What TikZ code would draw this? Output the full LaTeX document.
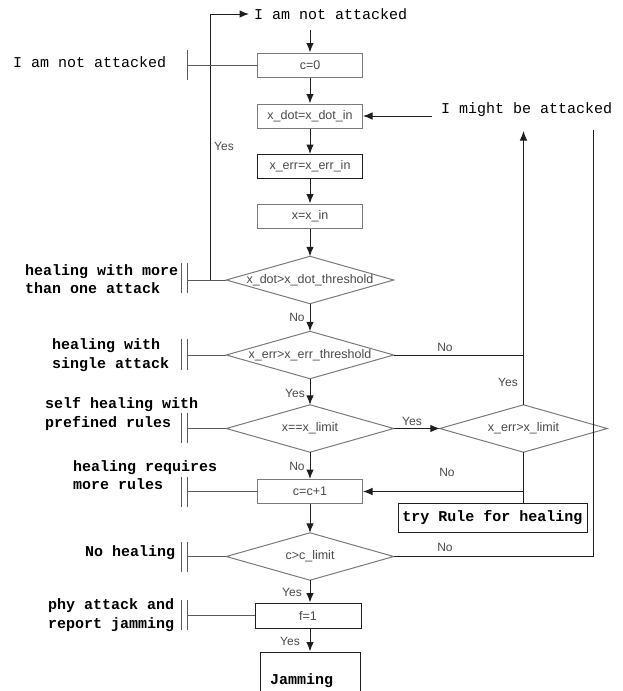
\documentclass[tikz,border=0pt]{standalone}
\usepackage{fontspec}
\newfontfamily\monof{Liberation Mono}
\newfontfamily\sansf{Liberation Sans}
\usetikzlibrary{arrows.meta}
\definecolor{boxgray}{HTML}{7A7A7A}
\definecolor{txtgray}{HTML}{4A4A4A}
\definecolor{linedark}{HTML}{1E1E1E}
\definecolor{tiegray}{HTML}{5A5A5A}
\begin{document}
\begin{tikzpicture}[x=1pt,y=-1pt,
  box/.style={draw=boxgray, line width=1pt, minimum width=105pt, minimum height=24pt, inner sep=0pt, font=\sansf\fontsize{12.5}{14}\selectfont, text=txtgray},
  darkbox/.style={box, draw=linedark},
  dia/.style={minimum width=167pt, minimum height=47pt, inner sep=0pt, font=\sansf\fontsize{12.5}{14}\selectfont, text=txtgray},
  diaedge/.style={draw=boxgray, line width=1pt, line join=miter},
  monotext/.style={font=\monof\fontsize{15}{18.5}\selectfont, inner sep=0pt, text=black},
  ann/.style={font=\monof\bfseries\fontsize{15}{18.5}\selectfont, align=left, anchor=west, inner sep=0pt, text=black},
  lab/.style={font=\sansf\fontsize{12}{14}\selectfont, text=txtgray, inner sep=0pt},
  arr/.style={draw=linedark, line width=1pt, -{Latex[length=9.5pt,width=7.5pt]}},
  con/.style={draw=linedark, line width=1pt},
  tie/.style={draw=tiegray, line width=1pt},
]
\clip (0,0) rectangle (622,691);
\fill[white] (0,0) rectangle (622,691);

% main column
\node[monotext, anchor=west, inner sep=5pt] (top) at (249,14) {I am not attacked};
\coordinate (cin) at (310,30);
\node[box] (c0) at (310,65) {c=0};
\node[box] (xdot) at (310,116) {x\_dot=x\_dot\_in};
\node[darkbox] (xerr) at (310,166.5) {x\_err=x\_err\_in};
\node[box] (xin) at (310,216) {x=x\_in};
\node[dia] (d1) at (310,280) {x\_dot>x\_dot\_threshold};
\node[dia] (d2) at (310,355) {x\_err>x\_err\_threshold};
\node[dia] (d3) at (310,428.5) {x==x\_limit};
\node[dia] (d4) at (523.5,428.5) {x\_err>x\_limit};
\node[box] (c1) at (310,491.5) {c=c+1};
\node[dia] (d5) at (310,556.5) {c>c\_limit};
\node[darkbox, minimum width=106pt, minimum height=25pt] (f1) at (308,615.5) {f=1};
\node[draw=linedark, line width=1pt, minimum width=189pt, minimum height=29pt, inner sep=0pt, font=\monof\bfseries\fontsize{15}{17}\selectfont] (try) at (492.5,517.5) {try Rule for healing};
\node[draw=linedark, line width=1pt, minimum width=100pt, minimum height=70pt] (jam) at (310,687) {};
\node[font=\monof\bfseries\fontsize{15}{17}\selectfont, anchor=west, inner sep=0pt] (jamt) at (270,681) {Jamming};

\node[monotext, anchor=west] (might) at (441,110) {I might be attacked};
\coordinate (mightin) at (432,116);
\coordinate (upend) at (523.5,131);
\coordinate (rt) at (593,130);
\coordinate (barx) at (187,0);

% diamonds
\foreach \n in {d1,d2,d3,d4,d5}
  \draw[diaedge] (\n.west) -- (\n.north) -- (\n.east) -- (\n.south) -- cycle;

% connectors
\draw[arr] (cin) -- (c0.north);
\draw[arr] (c0) -- (xdot);
\draw[arr] (xdot) -- (xerr);
\draw[arr] (xerr) -- (xin);
\draw[arr] (xin) -- (d1.north);
\draw[arr] (d1.south) -- (d2.north);
\draw[arr] (d2.south) -- (d3.north);
\draw[arr] (d3.south) -- (c1.north);
\draw[arr] (c1.south) -- (d5.north);
\draw[arr] (d5.south) -- (d5.south |- f1.north);
\draw[arr] (d5.south |- f1.south) -- (d5.south |- jam.north);
\draw[arr] (mightin) -- (xdot.east);
\draw[arr] (d1.west) -- ++(-16,0) |- (top.west);
\draw[con] (d2.east) -- (d2.east -| d4.north);
\draw[arr] (d4.north) -- (upend);
\draw[arr] (d3.east) -- (d4.west);
\draw[con] (d4.south) -- (d4.south |- try.north);
\coordinate (jn) at (d4.south |- c1.east);
\draw[arr] (jn) -- (c1.east);
\draw[con] (d5.east) -| (rt);

% connector labels
\node[lab] (ly1) at (224,146) {Yes};
\node[lab] (ln1) at (297,317) {No};
\node[lab] (ln2) at (445,347) {No};
\node[lab] (ly2) at (295,393) {Yes};
\node[lab] (ly3) at (508,382) {Yes};
\node[lab] (ly4) at (412,421) {Yes};
\node[lab] (ln3) at (297,466) {No};
\node[lab] (ln4) at (447,472) {No};
\node[lab] (ln5) at (445,547) {No};
\node[lab] (ly5) at (292,592) {Yes};
\node[lab] (ly6) at (290,641) {Yes};

% annotations
\node[monotext, anchor=west] (a0) at (13,62) {I am not attacked};
\node[ann] (a1) at (25,279) {healing with more\\than one attack};
\node[ann] (a2) at (52,355) {healing with\\single attack};
\node[ann] (a3) at (45,414) {self healing with\\prefined rules};
\node[ann] (a4) at (73,475) {healing requires\\more rules};
\node[ann] (a5) at (85,553) {No healing};
\node[ann] (a6) at (48,615) {phy attack and\\report jamming};

% annotation ties
\draw[tie] (187,50) -- (187,80);
\draw[tie] (187,65) -- (c0.west);
\foreach \n/\ya/\yb in {d1/263/293, d2/339/370, d3/413/443, c1/477/507, d5/542/572, f1/600/630} {
  \draw[tie] (181.5,\ya) -- (181.5,\yb);
  \draw[tie] (187,\ya) -- (187,\yb);
  \draw[tie] (barx |- \n.west) -- (\n.west);
}
\end{tikzpicture}
\end{document}
